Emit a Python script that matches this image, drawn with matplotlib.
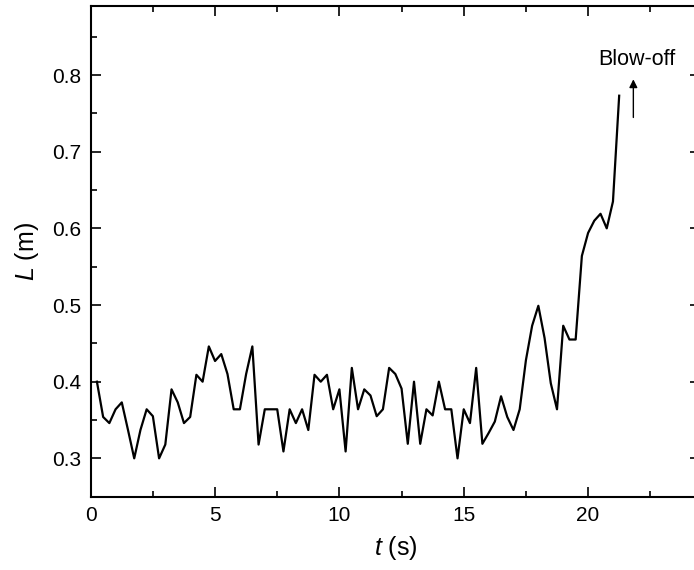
import matplotlib
matplotlib.use("Agg")
import matplotlib.pyplot as plt
import numpy as np
from matplotlib.ticker import MultipleLocator

plt.rcParams['font.family'] = ['Liberation Sans', 'DejaVu Sans']
plt.rcParams['mathtext.fontset'] = 'custom'
plt.rcParams['mathtext.it'] = 'Liberation Sans:italic'
plt.rcParams['mathtext.rm'] = 'Liberation Sans'

time_s = [0.25 * k for k in range(1, 86)]
length_m = [
    0.400, 0.354, 0.346, 0.364, 0.373, 0.337, 0.300, 0.337, 0.364, 0.355,
    0.300, 0.318, 0.390, 0.373, 0.346, 0.354, 0.409, 0.400, 0.446, 0.427,
    0.436, 0.410, 0.364, 0.364, 0.410, 0.446, 0.318, 0.364, 0.364, 0.364,
    0.309, 0.364, 0.346, 0.364, 0.337, 0.409, 0.400, 0.409, 0.364, 0.390,
    0.309, 0.418, 0.364, 0.390, 0.382, 0.355, 0.364, 0.418, 0.410, 0.391,
    0.319, 0.400, 0.319, 0.364, 0.356, 0.400, 0.364, 0.364, 0.300, 0.364,
    0.346, 0.418, 0.319, 0.333, 0.348, 0.381, 0.354, 0.337, 0.364, 0.428,
    0.473, 0.499, 0.457, 0.398, 0.364, 0.473, 0.455, 0.455, 0.564, 0.594,
    0.610, 0.619, 0.600, 0.635, 0.773,
]
annotation_text = "Blow-off"

W, H = 694, 570
fig = plt.figure(figsize=(W / 100, H / 100), dpi=100)
left, right, top, bottom = 90.7, 700.0, 6.0, 496.7
ax = fig.add_axes([left / W, 1 - bottom / H, (right - left) / W, (bottom - top) / H])

ax.plot(time_s, length_m, color='black', lw=1.6)

ax.set_xlim(0, 24.5)
ax.set_ylim(0.25, 0.89)
ax.xaxis.set_major_locator(MultipleLocator(5))
ax.xaxis.set_minor_locator(MultipleLocator(2.5))
ax.yaxis.set_major_locator(MultipleLocator(0.1))
ax.yaxis.set_minor_locator(MultipleLocator(0.05))
ax.yaxis.set_major_formatter(matplotlib.ticker.FormatStrFormatter('%.1f'))

ax.tick_params(which='both', direction='in', top=True, right=True, width=1.2,
               labelsize=15, colors='black')
ax.tick_params(which='major', length=7, pad=7)
ax.tick_params(which='minor', length=4)
for sp in ax.spines.values():
    sp.set_linewidth(1.5)

ax.set_xlabel(r'$t$ (s)', fontsize=18, labelpad=6)
ax.set_ylabel(r'$L$ (m)', fontsize=18, labelpad=8)

ax.annotate('', xy=(21.82, 0.798), xytext=(21.82, 0.741),
            arrowprops=dict(arrowstyle='-|>', color='black', lw=1.0, mutation_scale=12))
ax.text(21.97, 0.82, annotation_text, fontsize=15.5, ha='center', va='center')

fig.savefig('out.png', dpi=100)
